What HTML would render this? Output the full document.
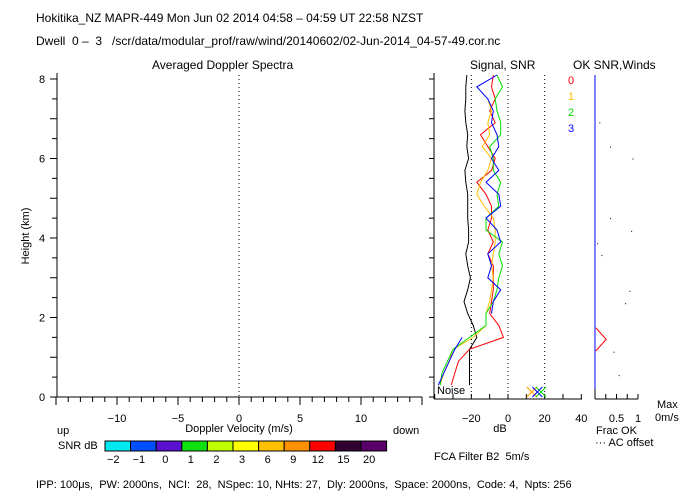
<!DOCTYPE html>
<html><head><meta charset="utf-8"><style>
body{margin:0;background:#fff;}
svg{display:block;font-family:"Liberation Sans",sans-serif;font-size:12px;}
</style></head><body>
<svg id="c" width="700" height="500" xmlns="http://www.w3.org/2000/svg">
<text x="36" y="22">Hokitika_NZ  MAPR-449  Mon Jun 02 2014 04:58 – 04:59 UT 22:58 NZST</text>
<text x="36" y="45" xml:space="preserve">Dwell  0 –  3   /scr/data/modular_prof/raw/wind/20140602/02-Jun-2014_04-57-49.cor.nc</text>
<text x="152" y="69">Averaged Doppler Spectra</text>
<text x="470" y="69">Signal, SNR</text>
<text x="573" y="69">OK SNR,Winds</text>
<text transform="translate(29,236) rotate(-90)" text-anchor="middle" font-size="11">Height (km)</text>
<text x="239" y="432" text-anchor="middle" font-size="11">Doppler Velocity (m/s)</text>
<text x="57" y="434" font-size="11">up</text>
<text x="393" y="434" font-size="11">down</text>
<text x="58" y="449" font-size="11">SNR dB</text>
<text x="500" y="432" text-anchor="middle" font-size="11">dB</text>
<text x="657" y="408" font-size="11">Max</text>
<text x="655" y="421" font-size="11">0m/s</text>
<text x="596" y="434" font-size="11">Frac OK</text>
<text x="595" y="446" font-size="11">··· AC offset</text>
<text x="434" y="460" font-size="11" xml:space="preserve">FCA Filter B2  5m/s</text>
<text x="36" y="488" font-size="11" xml:space="preserve">IPP: 100μs,  PW: 2000ns,  NCI:  28,  NSpec: 10, NHts: 27,  Dly: 2000ns,  Space: 2000ns,  Code: 4,  Npts: 256</text>
<g id="g"></g>
</svg>
<script>
const heights=[0.3,0.6,0.9,1.2,1.5,1.8,2.1,2.4,2.7,3.0,3.3,3.6,3.9,4.2,4.5,4.8,5.1,5.4,5.7,6.0,6.3,6.6,6.9,7.2,7.5,7.8,8.1];
const snr0=[-31,-29,-27,-21,-2.5,-5,-10,-9,-8,-8,-8,-11,-8,-11,-9,-9,-12,-17,-9,-7,-11,-15,-7,-10,-7,-9,-8];
const snr1=[-37,-35,-32,-30,-19,-12,-12,-10,-9,-8,-9,-8,-7,-7,-8,-13,-17,-15,-11,-9,-14,-10,-11,-9,-11,null,null];
const snr2=[-37,-36,-33,-30,-21,-12,-12,-8,-6,-5,-3,-5,-3,-12,-12,-5,-6,-4,-8,-8,-10,-4,-4,-6,-7,-3,-6];
const snr3=[-38,-35,-32,-29,-25,null,-9,-8,-4,-11,-9,-11,-4,-6,-12,-4,-5,-12,-5,-9,-5,-6,-9,-8,-11,-17,-6];
const noise=[-21,-21,-21,-21,-17,-19,-22,-24,-22,-20.5,-22,-23,-21.5,-21.5,-22,-22,-22,-23,-23.5,-21.5,-22.5,-22,-23,-23.5,-23,-23,-22.5];
const crossDb=[13,13,18,16];
const colors=['#ff0000','#ffc000','#00e000','#0000ff'];
const okFrac=[0.55,0.43,0.7,0.8,0.15,0.05,0.84,0.35,0.87,0.35,0.10];
const okHt=[0.55,1.14,2.36,2.67,3.57,3.87,4.18,4.5,6.0,6.3,6.91];
const redFrac=[0.02,0.26,0.02];
const redHt=[1.74,1.45,1.16];
const velTicks=[-10,-5,0,5,10];
const dbTicks=[-20,0,20,40];
const cbColors=['#00e8f0','#0050ff','#5a10d0','#10e010','#c0ff00','#ffff00','#ffc000','#ff9000','#ff0000','#300030','#580068'];
const cbLabels=['−2','−1','0','1','2','3','6','9','12','15','20'];

const NS='http://www.w3.org/2000/svg';
const G=document.getElementById('g');
function mk(t,a,p){const e=document.createElementNS(NS,t);for(const k in a)e.setAttribute(k,a[k]);(p||G).appendChild(e);return e;}
const Y=h=>397-h*39.75;
const XV=v=>239+v*12.2;
const XD=d=>508+d*1.833;
const XF=f=>595+f*43;

// left axis
let e=mk('line',{x1:57,y1:Y(8.15),x2:57,y2:397,stroke:'#000'});


for(let i=0;i<=16;i++){const h=i*0.5;mk('line',{x1:i%2?52:50,y1:Y(h),x2:57,y2:Y(h),stroke:'#000'});
 if(i%4==0){const t=mk('text',{x:42,y:Y(h)+4,'text-anchor':'middle','font-size':11});t.textContent=h;
 
 }}
e=mk('line',{x1:57,y1:397,x2:422,y2:397,stroke:'#000'});


for(let v=-15;v<=15;v++){mk('line',{x1:XV(v),y1:397,x2:XV(v),y2:v%5==0?405:402,stroke:'#000'});}
velTicks.forEach(v=>{const t=mk('text',{x:XV(v),y:422,'text-anchor':'middle','font-size':11});t.textContent=v<0?'−'+(-v):v;
 
 });
e=mk('line',{x1:XV(0),y1:Y(8.1),x2:XV(0),y2:397,stroke:'#000','stroke-dasharray':'1,3'});



// color bar
cbColors.forEach((c,i)=>{const x=105+i*25.6;const r=mk('rect',{x:x,y:441,width:25.6,height:10,fill:c,stroke:'#000'});
 
 
 const t=mk('text',{x:x+4+(cbLabels[i].length>1?-2:2),y:463,'font-size':11});t.textContent=cbLabels[i];
 
 });

// middle panel
e=mk('line',{x1:434,y1:Y(8.15),x2:434,y2:399,stroke:'#000'});


for(let i=0;i<=16;i++){mk('line',{x1:429,y1:Y(i*0.5),x2:434,y2:Y(i*0.5),stroke:'#000'});}
e=mk('line',{x1:434,y1:399,x2:582,y2:399,stroke:'#000'});


for(let d=-40;d<=40;d+=10){mk('line',{x1:XD(d),y1:399,x2:XD(d),y2:394,stroke:'#000'});}
dbTicks.forEach(d=>{const t=mk('text',{x:XD(d),y:422,'text-anchor':'middle','font-size':11});t.textContent=d<0?'−'+(-d):d;
 
 });
[-20,0,20].forEach(d=>{const l=mk('line',{x1:XD(d),y1:Y(8.1),x2:XD(d),y2:397,stroke:'#000','stroke-dasharray':'1,3'});
 
 });
function poly(arr,col,name){let segs=[],cur=[];arr.forEach((v,i)=>{if(v==null){if(cur.length)segs.push(cur);cur=[];}else cur.push(XD(v).toFixed(1)+','+Y(heights[i]).toFixed(1));});if(cur.length)segs.push(cur);
 segs.forEach(s=>{const p=mk('polyline',{points:s.join(' '),fill:'none',stroke:col,'stroke-width':1});
 
 });}
poly(noise,'#000','noise-line');
[snr0,snr1,snr2,snr3].forEach((s,i)=>poly(s,colors[i],'snr-line-'+i));
crossDb.forEach((d,i)=>{const x=XD(d),y=392;const p=mk('path',{d:`M${x-5},${y-5}L${x+5},${y+5}M${x-5},${y+5}L${x+5},${y-5}`,stroke:colors[i],fill:'none'});
 
 });
['0','1','2','3'].forEach((s,i)=>{const t=mk('text',{x:568,y:84+i*16,fill:colors[i],'font-size':11});t.textContent=s;
 
 });
e=mk('text',{x:437,y:394,'font-size':11});e.textContent='Noise';



// right panel
e=mk('line',{x1:595,y1:Y(8.1),x2:595,y2:Y(0.2),stroke:'#0000ff'});


e=mk('line',{x1:595,y1:Y(0.2),x2:595,y2:399,stroke:'#000'});
e=mk('line',{x1:595,y1:399,x2:638,y2:399,stroke:'#000'});


[0,0.25,0.5,0.75,1].forEach(f=>mk('line',{x1:XF(f),y1:399,x2:XF(f),y2:394,stroke:'#000'}));
[[0.5,'0.5'],[1,'1']].forEach(a=>{const t=mk('text',{x:XF(a[0]),y:422,'text-anchor':'middle','font-size':11});t.textContent=a[1];
 
 });
okFrac.forEach((f,i)=>{const r=mk('rect',{x:XF(f),y:Y(okHt[i]),width:1,height:1,fill:'#000'});
 
 });
e=mk('polyline',{points:redFrac.map((f,i)=>XF(f)+','+Y(redHt[i])).join(' '),fill:'none',stroke:'#ff0000'});


</script>
</body></html>
